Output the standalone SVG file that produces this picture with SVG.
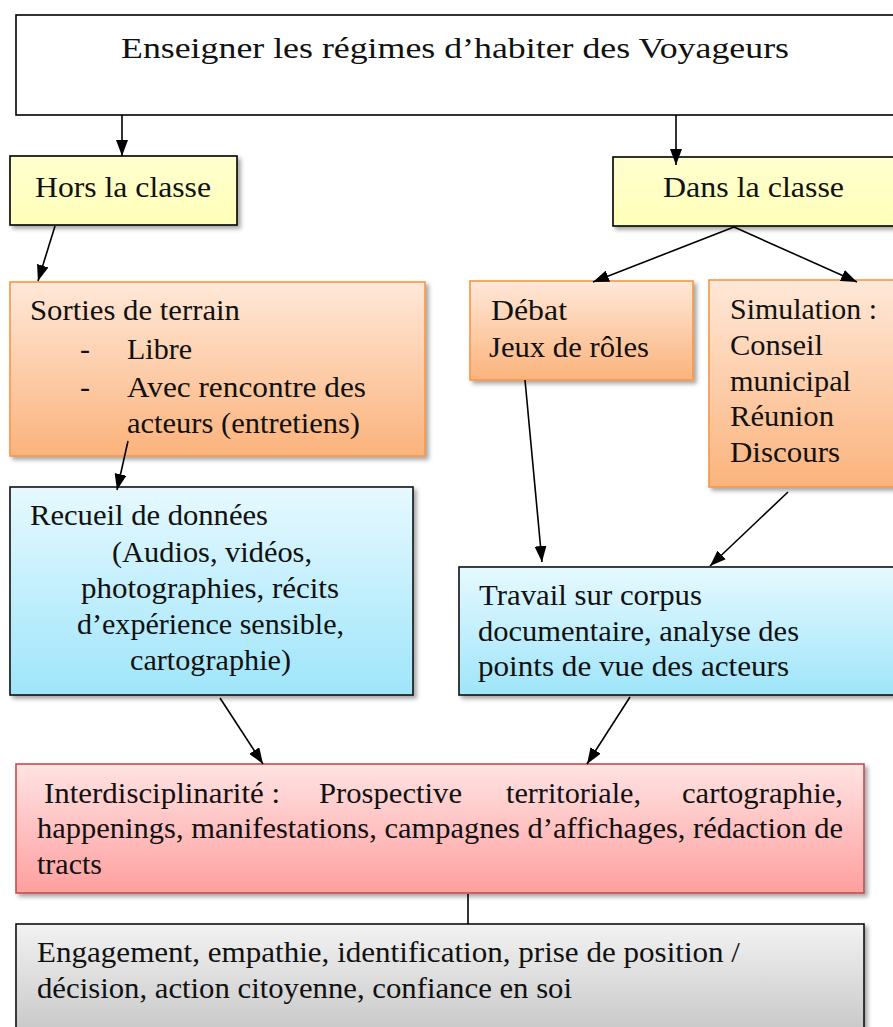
<svg xmlns="http://www.w3.org/2000/svg" width="893" height="1027" viewBox="0 0 893 1027" font-family="Liberation Serif">
<defs>
<style>
text{font-family:'Liberation Serif',serif;font-size:30px;fill:#111;}
.c{stroke:#000;stroke-width:1.6;fill:none;}
.a{marker-end:url(#ah);}
</style>
<marker id="ah" viewBox="0 0 16 12" refX="16" refY="6" markerWidth="16" markerHeight="12" markerUnits="userSpaceOnUse" orient="auto">
<path d="M0,0 L16,6 L0,12 Z" fill="#000"/>
</marker>
<filter id="sh" x="-5%" y="-5%" width="115%" height="125%">
<feDropShadow dx="3" dy="3" stdDeviation="2" flood-color="#000" flood-opacity="0.35"/>
</filter>
<linearGradient id="gy" x1="0" y1="0" x2="0" y2="1"><stop offset="0" stop-color="#FFFFD0"/><stop offset="1" stop-color="#FFFFB8"/></linearGradient>
<linearGradient id="go" x1="0" y1="0" x2="0" y2="1"><stop offset="0" stop-color="#FFE8D8"/><stop offset="1" stop-color="#FBB37C"/></linearGradient>
<linearGradient id="gb" x1="0" y1="0" x2="0" y2="1"><stop offset="0" stop-color="#E6F9FF"/><stop offset="1" stop-color="#9FE5FA"/></linearGradient>
<linearGradient id="gr" x1="0" y1="0" x2="0" y2="1"><stop offset="0" stop-color="#FFE3E3"/><stop offset="1" stop-color="#FF9F9F"/></linearGradient>
<linearGradient id="gg" x1="0" y1="0" x2="0" y2="1"><stop offset="0" stop-color="#F2F2F2"/><stop offset="1" stop-color="#C4C4C4"/></linearGradient>
</defs>
<rect width="893" height="1027" fill="#fff"/>

<g id="n-title">
<rect x="16" y="15" width="890" height="100" fill="#fff" stroke="#000" stroke-width="1.6"/>
<text x="121" y="58" textLength="668" lengthAdjust="spacingAndGlyphs">Enseigner les régimes d’habiter des Voyageurs</text>
</g>

<g id="n-hors">
<rect x="10" y="156" width="227" height="69" fill="url(#gy)" stroke="#000" stroke-width="1.6" filter="url(#sh)"/>
<text x="35" y="197" textLength="176" lengthAdjust="spacingAndGlyphs">Hors la classe</text>
</g>

<g id="n-dans">
<rect x="613" y="157" width="290" height="69" fill="url(#gy)" stroke="#000" stroke-width="1.6" filter="url(#sh)"/>
<text x="663" y="197" textLength="181" lengthAdjust="spacingAndGlyphs">Dans la classe</text>
</g>

<g id="n-sorties">
<rect x="10" y="282" width="415" height="174" fill="url(#go)" stroke="#F79646" stroke-width="1.6" filter="url(#sh)"/>
<text x="30" y="320" textLength="210" lengthAdjust="spacingAndGlyphs">Sorties de terrain</text>
<text x="80" y="359">-</text>
<text x="127" y="359" textLength="65" lengthAdjust="spacingAndGlyphs">Libre</text>
<text x="80" y="397">-</text>
<text x="127" y="397" textLength="239" lengthAdjust="spacingAndGlyphs">Avec rencontre des</text>
<text x="127" y="433" textLength="233" lengthAdjust="spacingAndGlyphs">acteurs (entretiens)</text>
</g>

<g id="n-debat">
<rect x="470" y="281" width="223" height="99" fill="url(#go)" stroke="#F79646" stroke-width="1.6" filter="url(#sh)"/>
<text x="491" y="320" textLength="76" lengthAdjust="spacingAndGlyphs">Débat</text>
<text x="489" y="357" textLength="160" lengthAdjust="spacingAndGlyphs">Jeux de rôles</text>
</g>

<g id="n-simulation">
<rect x="709" y="280" width="200" height="207" fill="url(#go)" stroke="#F79646" stroke-width="1.6" filter="url(#sh)"/>
<text x="730" y="319" textLength="147" lengthAdjust="spacingAndGlyphs">Simulation :</text>
<text x="730" y="355" textLength="93" lengthAdjust="spacingAndGlyphs">Conseil</text>
<text x="730" y="391" textLength="121" lengthAdjust="spacingAndGlyphs">municipal</text>
<text x="730" y="426" textLength="104" lengthAdjust="spacingAndGlyphs">Réunion</text>
<text x="730" y="462" textLength="110" lengthAdjust="spacingAndGlyphs">Discours</text>
</g>

<g id="n-recueil">
<rect x="10" y="487" width="403" height="208" fill="url(#gb)" stroke="#111" stroke-width="1.6" filter="url(#sh)"/>
<text x="30" y="525" textLength="238" lengthAdjust="spacingAndGlyphs">Recueil de données</text>
<text x="112" y="562" textLength="200" lengthAdjust="spacingAndGlyphs">(Audios, vidéos,</text>
<text x="81" y="598" textLength="258" lengthAdjust="spacingAndGlyphs">photographies, récits</text>
<text x="77" y="634" textLength="267" lengthAdjust="spacingAndGlyphs">d’expérience sensible,</text>
<text x="130" y="670" textLength="161" lengthAdjust="spacingAndGlyphs">cartographie)</text>
</g>

<g id="n-travail">
<rect x="459" y="567" width="450" height="128" fill="url(#gb)" stroke="#111" stroke-width="1.6" filter="url(#sh)"/>
<text x="479" y="605" textLength="223" lengthAdjust="spacingAndGlyphs">Travail sur corpus</text>
<text x="478" y="641" textLength="321" lengthAdjust="spacingAndGlyphs">documentaire, analyse des</text>
<text x="478" y="676" textLength="311" lengthAdjust="spacingAndGlyphs">points de vue des acteurs</text>
</g>

<g id="n-interdisciplinarite">
<rect x="16" y="764" width="848" height="129" fill="url(#gr)" stroke="#C0504D" stroke-width="1.6" filter="url(#sh)"/>
<text x="44" y="803" textLength="236" lengthAdjust="spacingAndGlyphs">Interdisciplinarité :</text>
<text x="319" y="803" textLength="143" lengthAdjust="spacingAndGlyphs">Prospective</text>
<text x="506" y="803" textLength="135" lengthAdjust="spacingAndGlyphs">territoriale,</text>
<text x="682" y="803" textLength="161" lengthAdjust="spacingAndGlyphs">cartographie,</text>
<text x="37" y="838" textLength="806" lengthAdjust="spacingAndGlyphs">happenings, manifestations, campagnes d’affichages, rédaction de</text>
<text x="37" y="874" textLength="65" lengthAdjust="spacingAndGlyphs">tracts</text>
</g>

<g id="n-engagement">
<rect x="16" y="924" width="848" height="120" fill="url(#gg)" stroke="#111" stroke-width="1.6" filter="url(#sh)"/>
<text x="37" y="962" textLength="703" lengthAdjust="spacingAndGlyphs">Engagement, empathie, identification, prise de position /</text>
<text x="37" y="998" textLength="535" lengthAdjust="spacingAndGlyphs">décision, action citoyenne, confiance en soi</text>
</g>

<g id="connectors">
<line class="c a" x1="122" y1="115" x2="122" y2="156"/>
<line class="c a" x1="676" y1="115" x2="676" y2="165"/>
<line class="c a" x1="55" y1="226" x2="38" y2="281"/>
<line class="c a" x1="734" y1="227" x2="593" y2="282"/>
<line class="c a" x1="734" y1="227" x2="857" y2="282"/>
<line class="c a" x1="128" y1="441" x2="117" y2="490"/>
<line class="c a" x1="525" y1="380" x2="542" y2="562"/>
<line class="c a" x1="788" y1="492" x2="710" y2="566"/>
<line class="c a" x1="220" y1="698" x2="263" y2="764"/>
<line class="c a" x1="630" y1="697" x2="587" y2="764"/>
<line class="c" x1="468" y1="894" x2="468" y2="924"/>
</g>
</svg>
